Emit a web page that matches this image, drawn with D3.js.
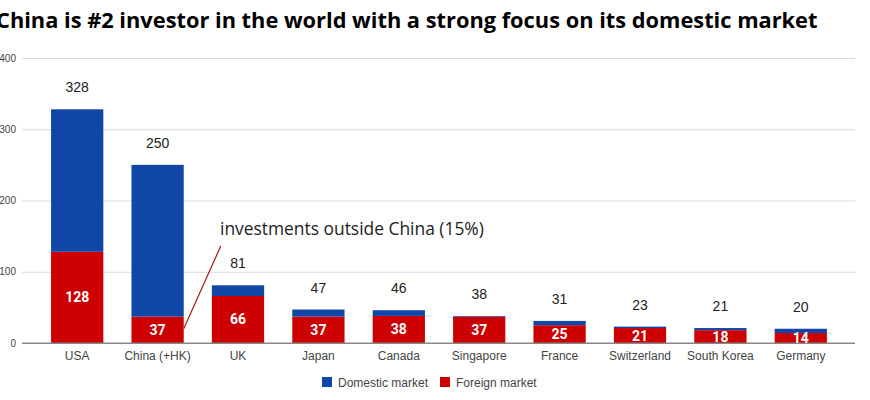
<!DOCTYPE html>
<html lang="en">
<head>
    <meta charset="UTF-8">
    <title>China is #2 investor</title>
    <script src="https://d3js.org/d3.v7.min.js"></script>
    <style>
        body, html {
            margin: 0;
            background: #fff;
        }
        svg {
            display: block;
        }
        .tick text {
            font-family: "Liberation Sans", Arial, sans-serif;
            fill: #444;
        }
    </style>
</head>
<body>
<script>
    const countries = ["USA", "China (+HK)", "UK", "Japan", "Canada", "Singapore", "France", "Switzerland", "South Korea", "Germany"];
    const foreign = [128, 37, 66, 37, 38, 37, 25, 21, 18, 14];
    const domestic = [200, 213, 15, 10, 8, 1, 6, 2, 3, 6];
    const totals = [328, 250, 81, 47, 46, 38, 31, 23, 21, 20];
    const yTicks = [0, 100, 200, 300, 400];
    const seriesNames = ["Domestic market", "Foreign market"];
    const colors = {"Domestic market": "#1046a8", "Foreign market": "#cc0000"};

    const width = 870, height = 400;
    const svg = d3.select("body").append("svg")
        .attr("width", width)
        .attr("height", height);

    const x = d3.scaleBand()
        .domain(countries)
        .range([37, 841])
        .paddingInner(0.35)
        .paddingOuter(0.175);
    const y = d3.scaleLinear()
        .domain([0, 400])
        .range([343, 58]);

    // title (left edge is clipped in the original too)
    svg.append("text")
        .attr("x", -4)
        .attr("y", 28)
        .style("font-family", "'Open Sans', sans-serif")
        .style("font-weight", "bold")
        .style("font-size", "21.8px")
        .style("fill", "#000")
        .text("China is #2 investor in the world with a strong focus on its domestic market");

    // gridlines + y labels
    const yAxis = svg.append("g")
        .attr("transform", "translate(22,0)")
        .call(d3.axisLeft(y).tickValues(yTicks).tickSize(-833).tickPadding(6));
    yAxis.select(".domain").remove();
    yAxis.selectAll(".tick line").attr("stroke", d => d === 0 ? "#888" : "#d9d9d9");
    yAxis.selectAll(".tick text").style("font-size", "10px");

    const rows = countries.map((c, i) => ({country: c, "Foreign market": foreign[i], "Domestic market": domestic[i]}));
    const stack = d3.stack().keys(["Foreign market", "Domestic market"])(rows);

    svg.append("g")
        .selectAll("g")
        .data(stack)
        .join("g")
        .attr("fill", d => colors[d.key])
        .selectAll("rect")
        .data(d => d)
        .join("rect")
        .attr("x", d => x(d.data.country))
        .attr("y", d => y(d[1]))
        .attr("width", x.bandwidth())
        .attr("height", d => y(d[0]) - y(d[1]));

    // redraw baseline over bars
    svg.append("line")
        .attr("x1", 22).attr("x2", 855)
        .attr("y1", y(0)).attr("y2", y(0))
        .attr("stroke", "#888");

    // foreign labels inside
    svg.append("g")
        .selectAll("text")
        .data(stack[0])
        .join("text")
        .attr("x", d => x(d.data.country) + x.bandwidth() / 2)
        .attr("y", d => (y(d[0]) + y(d[1])) / 2 + 5)
        .attr("text-anchor", "middle")
        .style("font-family", "Roboto, Arial, sans-serif")
        .style("font-weight", "bold")
        .style("font-size", "14px")
        .style("fill", "#fff")
        .text(d => d.data["Foreign market"]);

    // totals above
    svg.append("g")
        .selectAll("text")
        .data(countries)
        .join("text")
        .attr("x", d => x(d) + x.bandwidth() / 2)
        .attr("y", (d, i) => y(totals[i]) - 17)
        .attr("text-anchor", "middle")
        .style("font-family", "'Liberation Sans', Arial, sans-serif")
        .style("font-size", "14px")
        .style("fill", "#222")
        .text((d, i) => totals[i]);

    // x axis labels
    const xAxis = svg.append("g")
        .attr("transform", `translate(0,${y(0)})`)
        .call(d3.axisBottom(x).tickSize(0).tickPadding(8));
    xAxis.select(".domain").remove();
    xAxis.selectAll(".tick text").style("font-size", "12px");

    // annotation
    const chinaRight = x("China (+HK)") + x.bandwidth();
    svg.append("line")
        .attr("x1", chinaRight).attr("y1", y(20))
        .attr("x2", chinaRight + 37).attr("y2", y(136))
        .attr("stroke", "#a31515")
        .attr("stroke-width", 1.2);
    svg.append("text")
        .attr("x", 220)
        .attr("y", 235)
        .style("font-family", "'Open Sans', sans-serif")
        .style("font-size", "17.4px")
        .style("fill", "#222")
        .text("investments outside China (15%)");

    // legend
    const legend = svg.append("g").attr("transform", "translate(322,377)");
    const item = legend.selectAll("g")
        .data(seriesNames)
        .join("g")
        .attr("transform", (d, i) => `translate(${i * 118},0)`);
    item.append("rect")
        .attr("width", 10).attr("height", 10)
        .attr("fill", d => colors[d]);
    item.append("text")
        .attr("x", 16).attr("y", 9.5)
        .style("font-family", "'Liberation Sans', Arial, sans-serif")
        .style("font-size", "12px")
        .style("fill", "#444")
        .text(d => d);
</script>
</body>
</html>
